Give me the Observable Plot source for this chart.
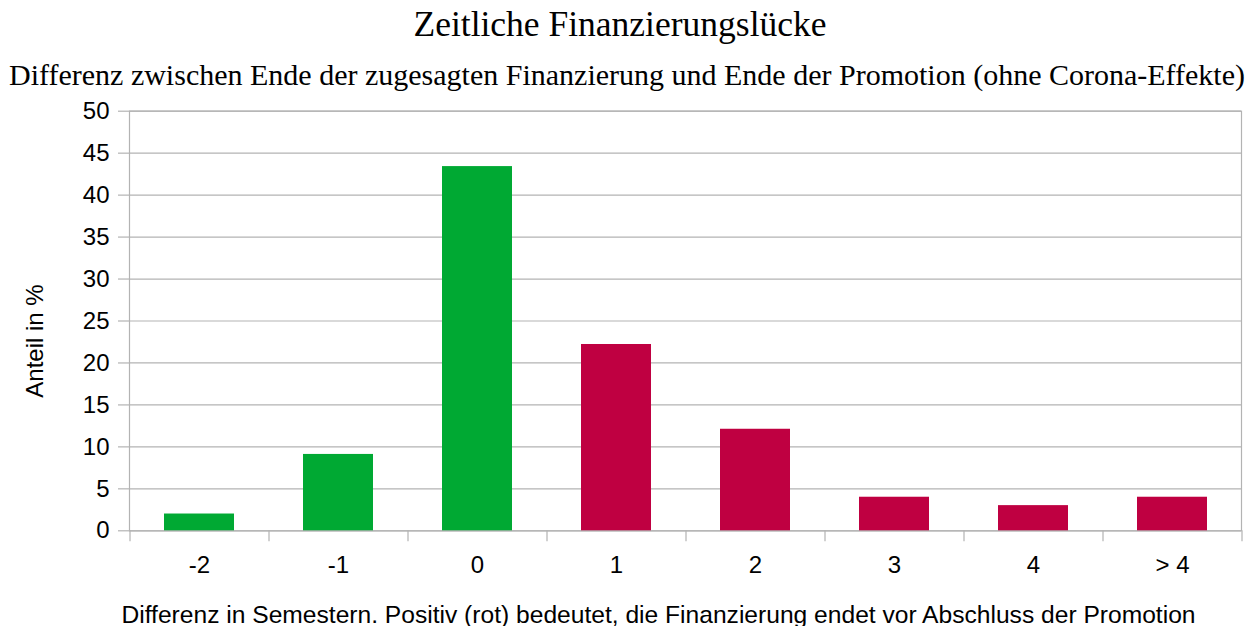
<!DOCTYPE html>
<html>
<head>
<meta charset="utf-8">
<script src="https://cdn.jsdelivr.net/npm/d3@7"></script>
<script src="https://cdn.jsdelivr.net/npm/@observablehq/plot@0.6"></script>
<style>
  html, body { margin: 0; padding: 0; background: #fff; }
  #wrap { width: 1254px; }
  .title { font-family: "Liberation Serif", "Times New Roman", serif; text-align: center; color: #000; white-space: nowrap; }
  #t1 { font-size: 35.5px; line-height: 48px; height: 48px; position: relative; left: -7px; }
  #t2 { font-size: 30px; line-height: 34px; padding-top: 10px; height: 34px; }
  #chart svg { display: block; overflow: visible; }
</style>
</head>
<body>
<div id="wrap">
  <div class="title" id="t1"></div>
  <div class="title" id="t2"></div>
  <div id="chart"></div>
</div>
<script>
const titleText = "Zeitliche Finanzierungslücke";
const subtitleText = "Differenz zwischen Ende der zugesagten Finanzierung und Ende der Promotion (ohne Corona-Effekte)";
const xLabel = "Differenz in Semestern. Positiv (rot) bedeutet, die Finanzierung endet vor Abschluss der Promotion";
const yLabel = "Anteil in %";

const categories = ["-2", "-1", "0", "1", "2", "3", "4", "> 4"];
const values = [2.0, 9.1, 43.4, 22.2, 12.1, 4.0, 3.0, 4.0];
const groups = ["ok", "ok", "ok", "gap", "gap", "gap", "gap", "gap"];
const yTicks = [0, 5, 10, 15, 20, 25, 30, 35, 40, 45, 50];

document.getElementById("t1").textContent = titleText;
document.getElementById("t2").textContent = subtitleText;

const rows = categories.map((c, i) => ({cat: c, value: values[i], group: groups[i]}));

const W = 1254, mL = 129, mR = 13;
const step = (W - mL - mR) / categories.length;
const grey = "#b3b3b3";

const chart = Plot.plot({
  width: W,
  height: 534,
  marginTop: 18.7,
  marginBottom: 95.7,
  marginLeft: mL,
  marginRight: mR,
  style: {fontFamily: "'Liberation Sans', Arial, sans-serif", fontSize: "24px", color: "#000", background: "#fff", overflow: "visible"},
  x: {domain: categories, paddingInner: 0.5, paddingOuter: 0.25, axis: null},
  y: {domain: [0, 50], axis: null},
  color: {domain: ["ok", "gap"], range: ["#00a933", "#bf0041"]},
  marks: [
    Plot.gridY(yTicks, {stroke: grey, strokeOpacity: 1, strokeWidth: 1.2}),
    Plot.frame({stroke: grey, strokeWidth: 1.2}),
    Plot.barY(rows, {x: "cat", y: "value", fill: "group"}),
    Plot.axisY(yTicks, {tickSize: 11, tickPadding: 9, stroke: grey, strokeWidth: 1.2, fontSize: 24, label: null, tickFormat: d => String(d)}),
    Plot.axisX(categories, {tickSize: 0, tickPadding: 25.5, fontSize: 24, label: null}),
    Plot.axisX(categories, {tickSize: 11, tickFormat: () => "", dx: -step / 2, stroke: grey, strokeWidth: 1.2, label: null}),
    Plot.axisX([categories[categories.length - 1]], {tickSize: 11, tickFormat: () => "", dx: step / 2, stroke: grey, strokeWidth: 1.2, label: null}),
    Plot.text([yLabel], {frameAnchor: "left", textAnchor: "middle", lineAnchor: "middle", rotate: -90, dx: -94, dy: 20, fontSize: 24, fill: "#000"}),
    Plot.text([xLabel], {frameAnchor: "bottom", textAnchor: "middle", lineAnchor: "middle", dx: -27, dy: 84, fontSize: 24.6, fill: "#000"})
  ]
});
document.getElementById("chart").appendChild(chart);
</script>
</body>
</html>
